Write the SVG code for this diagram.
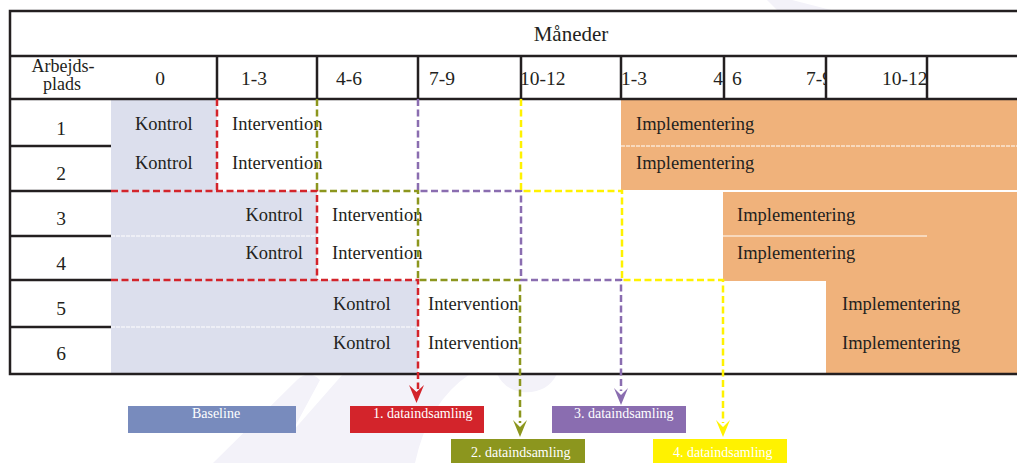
<svg xmlns="http://www.w3.org/2000/svg" width="1017" height="463" viewBox="0 0 1017 463">
<style>
.t{font-family:"Liberation Serif","Times New Roman",serif;fill:#231f20;font-size:18.5px}
.h{font-size:19.5px}
.lg{font-family:"Liberation Serif","Times New Roman",serif;fill:#ffffff;font-size:14px}
.grid{stroke:#231f20;stroke-width:2.5;fill:none}
.ctl{fill:#dcdfed}
.imp{fill:#f0b27b}
.sep{stroke:#ffffff;stroke-width:1.2;stroke-dasharray:4 1;fill:none}
.d{fill:none;stroke-width:2.5;stroke-dasharray:7 3.5}
.red{stroke:#d3242b}.olv{stroke:#8c961e}.pur{stroke:#8a6db0}.yel{stroke:#fff200}
</style>
<defs>
<clipPath id="c79"><rect x="724" y="56" width="101" height="43"/></clipPath>
</defs>
<g id="watermark" fill="#f3f2f9">
<path d="M213,463 L297,380 Q309,369 320,380 L292,432 L343,374 L470,374 Q428,402 415,463 Z"/>
<path d="M497,374 L557,374 Q547,394 522,392 Q505,390 497,374 Z"/>
<path d="M767,0 L792,0 L835,11 L778,11 Z"/>
</g>
<rect x="10" y="11" width="1007" height="363" fill="#ffffff"/>
<g id="blocks">
<g id="kontrol-1-2"><rect class="ctl" x="111" y="99" width="106" height="92"/>
<text class="t" x="135" y="130">Kontrol</text><text class="t" x="135" y="169">Kontrol</text></g>
<g id="kontrol-3-4"><rect class="ctl" x="111" y="191" width="206" height="89"/>
<line class="sep" x1="111" y1="236" x2="317" y2="236"/>
<text class="t" x="303" y="221" text-anchor="end">Kontrol</text><text class="t" x="303" y="259" text-anchor="end">Kontrol</text></g>
<g id="kontrol-5-6"><rect class="ctl" x="111" y="280" width="307" height="94"/>
<line class="sep" x1="111" y1="327" x2="418" y2="327"/>
<text class="t" x="333" y="310">Kontrol</text><text class="t" x="333" y="349">Kontrol</text></g>
<g id="intervention-1-2"><text class="t" x="232" y="130">Intervention</text><text class="t" x="232" y="169">Intervention</text></g>
<g id="intervention-3-4"><text class="t" x="332" y="221">Intervention</text><text class="t" x="332" y="259">Intervention</text></g>
<g id="intervention-5-6"><text class="t" x="428" y="310">Intervention</text><text class="t" x="428" y="349">Intervention</text></g>
<g id="impl-1-2"><rect class="imp" x="621" y="99" width="396" height="91"/>
<line class="sep" x1="621" y1="146" x2="1017" y2="146"/>
<text class="t" x="636" y="130">Implementering</text><text class="t" x="636" y="169">Implementering</text></g>
<g id="impl-3-4"><rect class="imp" x="723" y="192" width="294" height="89"/>
<line x1="723" y1="236" x2="927" y2="236" stroke="#ffffff" stroke-width="1.2"/>
<text class="t" x="737" y="221">Implementering</text><text class="t" x="737" y="259">Implementering</text></g>
<g id="impl-5-6"><rect class="imp" x="826" y="280" width="191" height="94"/>
<text class="t" x="842" y="310">Implementering</text><text class="t" x="842" y="349">Implementering</text></g>
</g>
<g id="table">
<path class="grid" d="M1017,11 H10 V374 H1017 M10,56 H1017 M10,99 H1017 M10,146 H111 M10,191 H111 M10,236 H111 M10,280 H111 M10,327 H111 M217,56 V99 M317,56 V99 M418,56 V99 M521,56 V99 M621,56 V99 M724,56 V99 M826,56 V99 M927,56 V99"/>
<text class="t" x="571" y="41" text-anchor="middle" style="font-size:21px">Måneder</text>
<text class="t" x="63" y="72" text-anchor="middle" style="font-size:18px">Arbejds-</text>
<text class="t" x="62" y="90" text-anchor="middle" style="font-size:18px">plads</text>
<text class="t h" x="160" y="85" text-anchor="middle">0</text>
<text class="t h" x="241" y="85">1-3</text>
<text class="t h" x="336" y="85">4-6</text>
<text class="t h" x="429" y="85">7-9</text>
<text class="t h" x="520" y="85">10-12</text>
<text class="t h" x="621" y="85">1-3</text>
<text class="t h" x="723" y="85" text-anchor="end">4</text>
<text class="t h" x="732" y="85">6</text>
<text class="t h" x="806" y="85" clip-path="url(#c79)">7-9</text>
<text class="t h" x="882" y="85">10-12</text>
<text class="t h" x="61" y="135" text-anchor="middle">1</text>
<text class="t h" x="61" y="180" text-anchor="middle">2</text>
<text class="t h" x="61" y="225" text-anchor="middle">3</text>
<text class="t h" x="61" y="270" text-anchor="middle">4</text>
<text class="t h" x="61" y="315" text-anchor="middle">5</text>
<text class="t h" x="61" y="360" text-anchor="middle">6</text>
</g>
<g id="connectors">
<path class="d red" d="M217,99 V191 M111,191 H317 V280 M111,280 H418 V389"/>
<path class="d olv" d="M317,99 V191 H418 V280 H520 V423"/>
<path class="d pur" d="M418,99 V191 H521 V280 H621 V391"/>
<path class="d yel" d="M521,99 V191 H622 V280 H723 V423"/>
<path fill="#d3242b" d="M409,385 L416.5,392 L424,385 L416.5,403 Z"/>
<path fill="#8c961e" d="M513,420 L520,427 L527,420 L520,437 Z"/>
<path fill="#8a6db0" d="M614,388 L621,395 L628,388 L621,405 Z"/>
<path fill="#fff200" d="M716,420 L723,427 L730,420 L723,437 Z"/>
</g>
<g id="legend-baseline"><rect x="128" y="406" width="168" height="27" fill="#788bbd"/><text class="lg" x="216" y="418" text-anchor="middle">Baseline</text></g>
<g id="legend-1"><rect x="350" y="406" width="134" height="27" fill="#d3242b"/><text class="lg" x="373" y="418">1. dataindsamling</text></g>
<g id="legend-2"><rect x="451" y="439" width="134" height="24" fill="#8c961e"/><text class="lg" x="471" y="457">2. dataindsamling</text></g>
<g id="legend-3"><rect x="552" y="406" width="134" height="27" fill="#8a6db0"/><text class="lg" x="574" y="418">3. dataindsamling</text></g>
<g id="legend-4"><rect x="653" y="439" width="134" height="24" fill="#fff200"/><text class="lg" x="673" y="457">4. dataindsamling</text></g>
</svg>
